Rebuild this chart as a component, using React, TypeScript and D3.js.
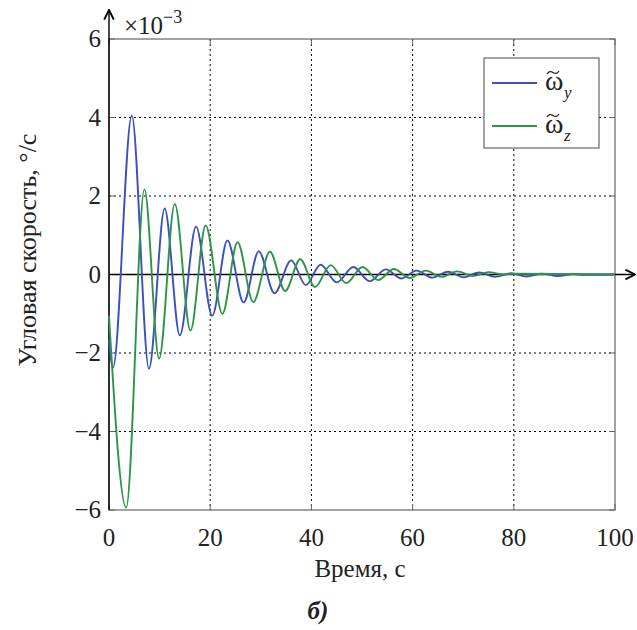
import React from "react";
import * as d3 from "d3";

const xTicks = [0, 20, 40, 60, 80, 100];
const yTicks = [-6, -4, -2, 0, 2, 4, 6];
const yTickLabels = ["\u22126", "\u22124", "\u22122", "0", "2", "4", "6"];

const omegaY: [number, number][] = [
  [0, -1.68], [0.8, -2.37], [4.5, 4.05], [7.9, -2.4], [11.0, 1.68], [14.0, -1.55],
  [17.2, 1.22], [20.4, -1.05], [23.4, 0.87], [26.6, -0.71], [29.6, 0.59], [32.7, -0.48],
  [36.0, 0.36], [38.9, -0.27], [41.8, 0.25], [45.0, -0.2], [48.3, 0.19], [51.5, -0.17],
  [54.7, 0.13], [57.8, -0.1], [60.8, 0.1], [63.9, -0.08], [67.0, 0.07], [70.1, -0.07],
  [73.2, 0.05], [76.3, -0.06], [79.4, 0.03], [82.5, -0.05], [85.6, 0.02], [88.7, -0.04],
  [91.8, 0.01], [94.0, -0.01], [100, 0],
];

const omegaZ: [number, number][] = [
  [0, -1.05], [3.4, -5.94], [7.0, 2.17], [9.9, -2.14], [13.0, 1.8], [16.1, -1.43],
  [19.1, 1.25], [22.4, -1.0], [25.4, 0.82], [28.5, -0.7], [31.8, 0.58], [34.8, -0.42],
  [37.8, 0.39], [40.7, -0.32], [43.8, 0.24], [46.9, -0.22], [50.1, 0.19], [53.2, -0.14],
  [56.3, 0.14], [59.4, -0.09], [62.6, 0.1], [65.7, -0.06], [68.8, 0.08], [71.9, -0.04],
  [75.0, 0.06], [78.0, 0.0], [80.0, 0.02], [100, 0.0],
];

const series = [
  { name: "y", data: omegaY, color: "#3b4fbf" },
  { name: "z", data: omegaZ, color: "#2f9447" },
];

export default function App() {
  const W = 637, H = 630;
  const x0 = 109, x1 = 615, yTop = 39, yBot = 510;
  const x = d3.scaleLinear().domain([0, 100]).range([x0, x1]);
  const y = d3.scaleLinear().domain([-6, 6]).range([yBot, yTop]);
  const line = d3
    .line<[number, number]>()
    .x((d) => x(d[0]))
    .y((d) => y(d[1]))
    .curve(d3.curveMonotoneX);
  const frame = "#666";
  const tf = { fontFamily: '"Liberation Serif", serif' };

  return (
    <svg width={W} height={H} style={{ position: "absolute", left: 0, top: 0, background: "#fff" }}>
      <defs>
        <marker id="arr" viewBox="0 0 10 10" refX="9" refY="5" markerWidth="12" markerHeight="12" markerUnits="userSpaceOnUse" orient="auto">
          <path d="M1,1 L9,5 L1,9" fill="none" stroke="#000" strokeWidth={1.6} />
        </marker>
      </defs>
      {/* gridlines */}
      {xTicks.filter((t) => t > 0 && t < 100).map((t) => (
        <line key={"gx" + t} x1={x(t)} x2={x(t)} y1={yTop} y2={yBot} stroke="#000" strokeWidth={1} strokeDasharray="2,3" />
      ))}
      {yTicks.filter((t) => t !== 0 && Math.abs(t) !== 6).map((t) => (
        <line key={"gy" + t} x1={x0} x2={x1} y1={y(t)} y2={y(t)} stroke="#000" strokeWidth={1} strokeDasharray="2,3" />
      ))}
      {/* frame */}
      <rect x={x0} y={yTop} width={x1 - x0} height={yBot - yTop} fill="none" stroke={frame} strokeWidth={1.2} />
      {/* ticks */}
      {xTicks.map((t) => (
        <g key={"tx" + t}>
          <line x1={x(t)} x2={x(t)} y1={yBot} y2={yBot - 6} stroke={frame} />
          <line x1={x(t)} x2={x(t)} y1={yTop} y2={yTop + 6} stroke={frame} />
        </g>
      ))}
      {yTicks.map((t) => (
        <g key={"ty" + t}>
          <line x1={x0} x2={x0 + 6} y1={y(t)} y2={y(t)} stroke={frame} />
          <line x1={x1} x2={x1 - 6} y1={y(t)} y2={y(t)} stroke={frame} />
        </g>
      ))}
      {/* axes with arrows */}
      <line x1={x0} x2={x0} y1={yBot} y2={10} stroke="#000" strokeWidth={1.4} markerEnd="url(#arr)" />
      <line x1={x0} x2={635} y1={y(0)} y2={y(0)} stroke="#000" strokeWidth={1.6} markerEnd="url(#arr)" />
      {/* series */}
      {series.map((s) => (
        <path key={s.name} d={line(s.data) || ""} fill="none" stroke={s.color} strokeWidth={1.9} />
      ))}
      {/* tick labels */}
      {xTicks.map((t) => (
        <text key={"lx" + t} x={x(t)} y={546} textAnchor="middle" fontSize={25} fill="#222" style={tf}>{t}</text>
      ))}
      {yTicks.map((t, i) => (
        <text key={"ly" + t} x={101} y={y(t) + 8} textAnchor="end" fontSize={25} fill="#222" style={tf}>{yTickLabels[i]}</text>
      ))}
      <text x={124} y={34} fontSize={25} fill="#222" style={tf}>
        ×10<tspan dy={-11} fontSize={18}>−3</tspan>
      </text>
      {/* axis titles */}
      <text x={360} y={577} textAnchor="middle" fontSize={25} fill="#222" style={tf}>Время, с</text>
      <text transform="translate(36,250) rotate(-90)" textAnchor="middle" fontSize={26} fill="#222" style={tf}>Угловая скорость, °/с</text>
      <text x={318} y={619} textAnchor="middle" fontSize={25} fontStyle="italic" fontWeight="bold" fill="#222" style={tf}>б)</text>
      {/* legend */}
      <rect x={484} y={58} width={115} height={90} fill="#fff" stroke={frame} strokeWidth={1.2} />
      {series.map((s, i) => {
        const ly = 83 + i * 43;
        return (
          <g key={"lg" + s.name}>
            <line x1={492} x2={537} y1={ly} y2={ly} stroke={s.color} strokeWidth={1.9} />
            <text x={545} y={ly + 7} fontSize={28} fill="#222" style={tf}>ω</text>
            <path d={`M547,${ly - 9} q2.5,-4 6,-1.5 t6,-1.5`} fill="none" stroke="#222" strokeWidth={1.3} />
            <text x={564} y={ly + 15} fontSize={17} fontStyle="italic" fill="#222" style={tf}>{s.name}</text>
          </g>
        );
      })}
    </svg>
  );
}
